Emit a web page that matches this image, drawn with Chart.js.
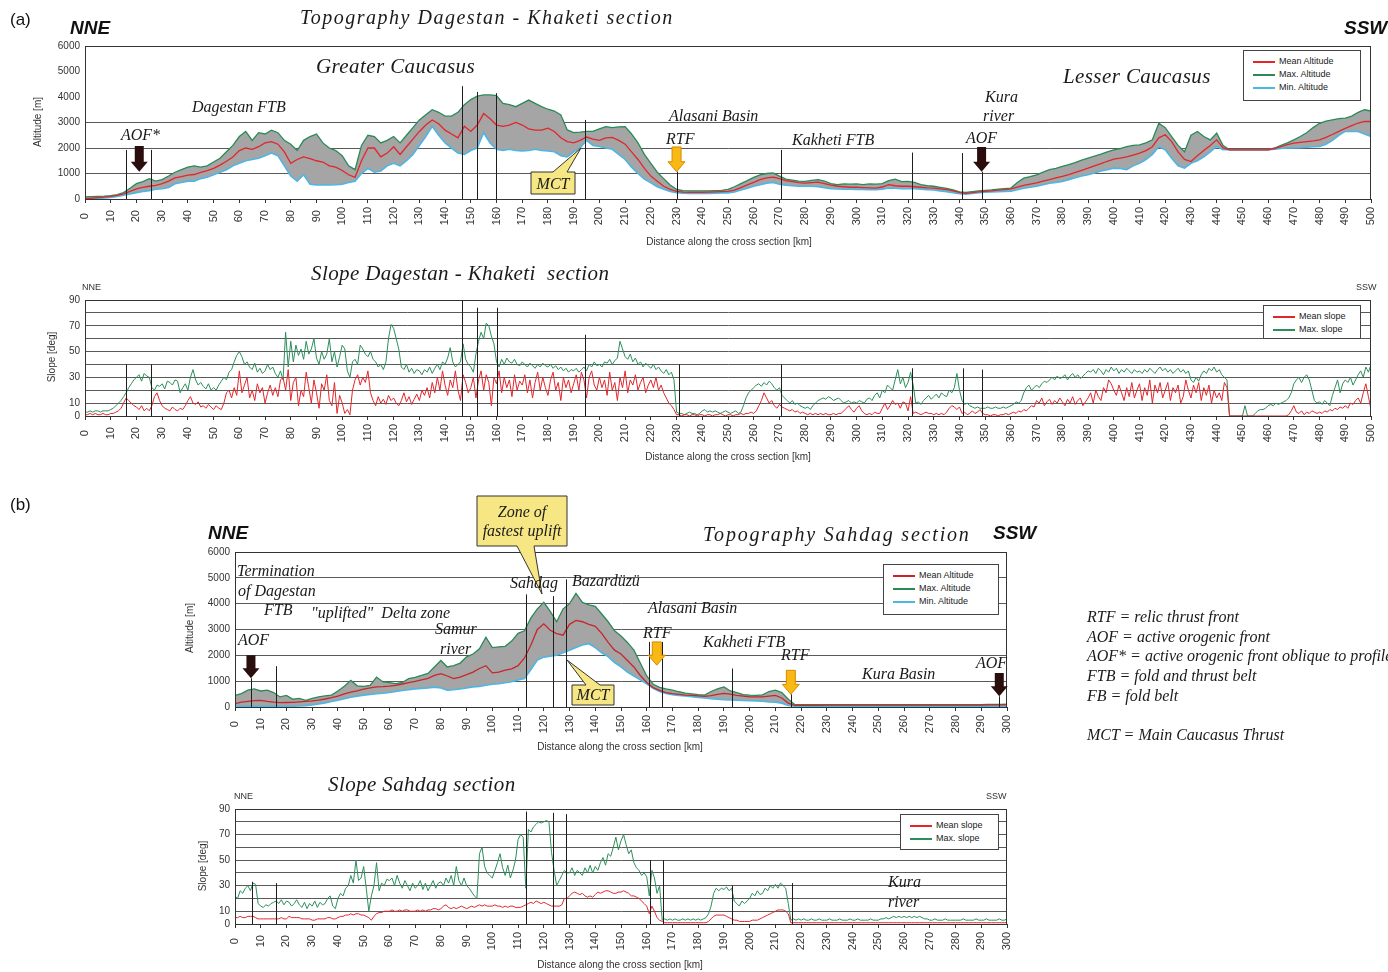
<!DOCTYPE html>
<html>
<head>
<meta charset="utf-8">
<script src="https://cdn.jsdelivr.net/npm/chart.js@4.4.1/dist/chart.umd.min.js"></script>
<style>
body{margin:0;background:#fff;width:1388px;height:972px;overflow:hidden;position:relative}
canvas{position:absolute}
svg{position:absolute;left:0;top:0}
.t{position:absolute;white-space:nowrap;line-height:1;color:#1a1a1a}
.s{font-family:'Liberation Serif',serif;font-style:italic;font-size:16px}
.big{font-size:21px;letter-spacing:0.4px}
.ttl{font-size:20px;letter-spacing:1.5px}
.dir{font-family:'Liberation Sans',sans-serif;font-weight:bold;font-style:italic;font-size:19px;color:#111}
.lab{font-family:'Liberation Sans',sans-serif;font-size:17px;color:#111}
.sm{font-family:'Liberation Sans',sans-serif;font-size:9px;color:#333}
.ax{font-family:'Liberation Sans',sans-serif;font-size:10px;color:#333}
.rot{transform:translate(-50%,-50%) rotate(-90deg)}
.ctr{transform:translate(-50%,-50%)}
.leg{position:absolute;border:1px solid #444;background:#fff;box-sizing:border-box;padding:4px 0 0 9px;font-family:'Liberation Sans',sans-serif;font-size:9px;color:#222}
.li{height:13px;line-height:13px;white-space:nowrap}
.li span{display:inline-block;width:22px;height:2px;vertical-align:middle;margin-right:4px}
</style>
</head>
<body>
<canvas id="topoA" style="left:45px;top:40px" width="1336" height="190"></canvas>
<canvas id="slopeA" style="left:45px;top:294px" width="1336" height="154"></canvas>
<canvas id="topoB" style="left:195px;top:546px" width="822" height="192"></canvas>
<canvas id="slopeB" style="left:195px;top:803px" width="822" height="153"></canvas>

<svg width="1388" height="972">
  <path d="M531,172 L553,172 L581,148 L567,172 L575,172 L575,194 L531,194 Z" fill="#f6e784" stroke="#333" stroke-width="1"/>
  <path d="M477,496 L567,496 L567,546 L534,546 L542,594 L517,546 L477,546 Z" fill="#f6e784" stroke="#333" stroke-width="1"/>
  <path d="M572,685 L586,685 L567,660 L600,685 L614,685 L614,705 L572,705 Z" fill="#f6e784" stroke="#333" stroke-width="1"/>
</svg>

<!-- (a) topography -->
<div class="t lab" style="left:10px;top:11px">(a)</div>
<div class="t dir" style="left:70px;top:18px">NNE</div>
<div class="t dir" style="left:1344px;top:18px">SSW</div>
<div class="t s ttl" style="left:300px;top:7px">Topography Dagestan - Khaketi section</div>
<div class="t s big" style="left:316px;top:56px">Greater Caucasus</div>
<div class="t s" style="left:192px;top:99px">Dagestan FTB</div>
<div class="t s" style="left:121px;top:127px">AOF*</div>
<div class="t s" style="left:669px;top:108px">Alasani Basin</div>
<div class="t s" style="left:666px;top:131px">RTF</div>
<div class="t s" style="left:792px;top:132px">Kakheti FTB</div>
<div class="t s" style="left:985px;top:89px">Kura</div>
<div class="t s" style="left:983px;top:108px">river</div>
<div class="t s" style="left:966px;top:130px">AOF</div>
<div class="t s big" style="left:1063px;top:66px">Lesser Caucasus</div>
<div class="t s ctr" style="left:553px;top:184px">MCT</div>
<div class="t ax rot" style="left:38px;top:122px">Altitude [m]</div>
<div class="t ax ctr" style="left:729px;top:242px">Distance along the cross section [km]</div>
<div class="leg" style="left:1243px;top:50px;width:118px;height:51px">
  <div class="li"><span style="background:#e2262b"></span>Mean Altitude</div>
  <div class="li"><span style="background:#2a8a56"></span>Max. Altitude</div>
  <div class="li"><span style="background:#4cb6e4"></span>Min. Altitude</div>
</div>

<!-- (a) slope -->
<div class="t sm" style="left:82px;top:283px">NNE</div>
<div class="t sm" style="left:1356px;top:283px">SSW</div>
<div class="t s big" style="left:311px;top:263px">Slope Dagestan - Khaketi&nbsp; section</div>
<div class="t ax rot" style="left:52px;top:357px">Slope [deg]</div>
<div class="t ax ctr" style="left:728px;top:457px">Distance along the cross section [km]</div>
<div class="leg" style="left:1263px;top:305px;width:98px;height:34px">
  <div class="li"><span style="background:#e3262c"></span>Mean slope</div>
  <div class="li"><span style="background:#2b8f5b"></span>Max. slope</div>
</div>

<!-- (b) topography -->
<div class="t lab" style="left:10px;top:496px">(b)</div>
<div class="t dir" style="left:208px;top:523px">NNE</div>
<div class="t s ttl" style="left:703px;top:524px;letter-spacing:1.8px">Topography Sahdag section</div>
<div class="t dir" style="left:993px;top:523px">SSW</div>
<div class="t s ctr" style="left:522px;top:512px">Zone of</div>
<div class="t s ctr" style="left:522px;top:531px">fastest uplift</div>
<div class="t s" style="left:237px;top:563px">Termination</div>
<div class="t s" style="left:238px;top:583px">of Dagestan</div>
<div class="t s" style="left:264px;top:602px">FTB</div>
<div class="t s" style="left:311px;top:605px">"uplifted"&nbsp; Delta zone</div>
<div class="t s" style="left:435px;top:621px">Samur</div>
<div class="t s" style="left:440px;top:641px">river</div>
<div class="t s" style="left:238px;top:632px">AOF</div>
<div class="t s" style="left:510px;top:575px">Sahdag</div>
<div class="t s" style="left:572px;top:573px">Bazardüzü</div>
<div class="t s" style="left:648px;top:600px">Alasani Basin</div>
<div class="t s" style="left:643px;top:625px">RTF</div>
<div class="t s" style="left:703px;top:634px">Kakheti FTB</div>
<div class="t s" style="left:781px;top:647px">RTF</div>
<div class="t s" style="left:862px;top:666px">Kura Basin</div>
<div class="t s" style="left:976px;top:655px">AOF</div>
<div class="t s ctr" style="left:593px;top:695px">MCT</div>
<div class="t ax rot" style="left:190px;top:628px">Altitude [m]</div>
<div class="t ax ctr" style="left:620px;top:747px">Distance along the cross section [km]</div>
<div class="leg" style="left:883px;top:564px;width:116px;height:51px">
  <div class="li"><span style="background:#c8262b"></span>Mean Altitude</div>
  <div class="li"><span style="background:#2a8a56"></span>Max. Altitude</div>
  <div class="li"><span style="background:#4cb6e4"></span>Min. Altitude</div>
</div>

<div class="t s" style="left:1087px;top:609px">RTF = relic thrust front</div>
<div class="t s" style="left:1087px;top:629px">AOF = active orogenic front</div>
<div class="t s" style="left:1087px;top:648px">AOF* = active orogenic front oblique to profile</div>
<div class="t s" style="left:1087px;top:668px">FTB = fold and thrust belt</div>
<div class="t s" style="left:1087px;top:688px">FB = fold belt</div>
<div class="t s" style="left:1087px;top:727px">MCT = Main Caucasus Thrust</div>

<!-- (b) slope -->
<div class="t sm" style="left:234px;top:792px">NNE</div>
<div class="t sm" style="left:986px;top:792px">SSW</div>
<div class="t s big" style="left:328px;top:774px">Slope Sahdag section</div>
<div class="t s" style="left:888px;top:874px">Kura</div>
<div class="t s" style="left:888px;top:894px">river</div>
<div class="t ax rot" style="left:203px;top:866px">Slope [deg]</div>
<div class="t ax ctr" style="left:620px;top:965px">Distance along the cross section [km]</div>
<div class="leg" style="left:900px;top:814px;width:99px;height:36px">
  <div class="li"><span style="background:#e3262c"></span>Mean slope</div>
  <div class="li"><span style="background:#2b8f5b"></span>Max. slope</div>
</div>

<script>
// sampling step of each profile [km]
const stepTopoA = 2.5;
const stepSlopeA = 1;
const stepTopoB = 2.5;
const stepSlopeB = 1;

// (a) Dagestan - Khaketi topography [m], every 2.5 km from 0 to 500
const meanAltA = [
  20,30,50,70, 100,140,200,300, 400,460,500,530, 600,700,830,880, 940,960,1040,1110,
  1200,1330,1480,1650, 1900,2000,1950,2050, 2200,2250,2150,1850, 1400,1550,1650,1580, 1500,1450,1300,1250,
  1120,950,850,1500, 2000,2000,1650,1800, 2050,1750,2050,2350, 2650,2900,3100,2950, 2700,2550,2400,2850,
  2650,2900,3350,3150, 2900,2850,2900,3000, 2900,2750,2700,2700, 2780,2650,2400,2250, 2200,2300,2430,2350,
  2300,2400,2420,2300, 2150,1850,1550,1200, 900,700,500,380, 300,270,260,260, 260,270,280,290,
  300,350,450,550, 650,760,830,860, 800,720,680,640, 620,640,660,600, 540,500,480,460,
  460,450,440,430, 470,560,520,500, 500,480,460,440, 430,400,370,320, 260,220,250,280,
  300,320,350,370, 400,470,530,580, 630,700,760,830, 890,960,1040,1120, 1210,1300,1390,1480,
  1560,1600,1650,1720, 1800,1900,2050,2400, 2520,2250,1850,1550, 1470,1700,1900,2100, 2320,2000,1930,1930,
  1930,1930,1930,1930, 1930,1980,2050,2130, 2190,2220,2250,2280, 2320,2420,2530,2650, 2770,2880,2980,3040,
  3040
];
const maxAltA = [
  80,90,100,110, 130,170,250,420, 600,680,800,700, 760,900,1050,1150, 1250,1300,1250,1300,
  1450,1600,1850,2100, 2450,2650,2300,2600, 2550,2700,2600,2300, 2150,1900,2300,2450, 2550,2200,2000,1900,
  1700,1300,1150,2100, 2500,2450,2200,2300, 2450,2200,2500,2800, 3100,3300,3500,3400, 3250,3250,3400,3700,
  3900,4030,4080,4080, 4050,3750,3700,3620, 3750,3880,3750,3620, 3520,3450,3300,2710, 2600,2620,2650,2650,
  2750,2840,2800,2830, 2840,2550,2200,1750, 1400,1050,800,550, 380,330,320,320, 320,320,330,340,
  380,480,600,720, 850,950,1000,1020, 900,780,740,700, 690,730,760,700, 600,560,590,580,
  590,560,590,580, 600,720,780,680, 690,650,560,520, 500,460,420,360, 280,260,290,320,
  340,360,390,410, 430,650,820,880, 950,1050,1150,1200, 1280,1350,1430,1520, 1600,1680,1760,1850,
  1930,1980,2050,2100, 2120,2200,2320,2970, 2800,2450,2100,1850, 2500,2650,2450,2320, 2580,2100,1930,1930,
  1930,1930,1930,1930, 1930,2000,2100,2200, 2320,2450,2600,2800, 2970,3050,3100,3150, 3170,3250,3400,3500,
  3450
];
const minAltA = [
  0,10,20,40, 60,100,150,200, 250,300,330,380, 400,450,600,650, 700,700,800,850,
  950,1050,1150,1300, 1400,1500,1550,1600, 1700,1800,1700,1300, 900,700,950,580, 550,550,550,560,
  580,650,700,1000, 1200,1050,1100,1300, 1400,1300,1500,1750, 2100,2450,2850,2500, 2200,2000,1800,1750,
  1900,2000,2600,2200, 1950,1900,1950,1900, 1880,1900,1950,1900, 1880,1850,1700,1650, 1850,2000,2300,2100,
  2060,2000,1950,1750, 1550,1250,1000,780, 630,480,380,300, 250,230,220,220, 220,220,230,240,
  240,280,350,420, 500,560,620,650, 580,540,520,500, 500,500,480,440, 400,390,380,380,
  370,370,360,360, 380,430,420,400, 400,400,380,360, 350,320,290,250, 210,190,220,250,
  270,280,290,300, 310,360,420,460, 500,560,620,650, 690,760,830,900, 950,1020,1100,1150,
  1210,1200,1150,1300, 1400,1550,1750,2050, 1930,1600,1300,1210, 1400,1500,1650,1850, 2060,1930,1930,1930,
  1930,1930,1930,1930, 1930,1950,1980,2000, 2000,2010,2030,2050, 2060,2150,2300,2500, 2650,2650,2650,2550,
  2450
];

// (a) slope [deg], every 1 km from 0 to 500
const meanSlopeA = [
  1,1,2,1,2,1,1,2,1,1, 2,2,3,4,6,10,14,12,10,8, 7,5,8,4,6,4,8,15,18,12, 8,6,5,4,7,5,4,6,5,8,
  12,15,10,9,11,7,8,6,9,7, 5,8,6,5,10,18,20,14,22,16, 35,18,24,30,14,20,12,25,18,22, 10,18,24,16,22,15,28,30,20,36,
  12,26,30,8,20,15,34,22,10,28, 18,6,25,20,32,12,8,26,2,16, 10,2,5,1,20,28,32,24,30,26, 35,18,12,8,15,10,13,9,16,12,
  14,10,8,12,18,11,15,9,13,17, 12,20,16,22,14,26,18,30,20,35, 24,16,28,22,35,20,12,32,26,18, 22,30,14,28,35,20,32,26,8,30,
  25,35,18,30,22,28,15,32,20,27, 24,32,18,28,14,26,34,20,30,22, 16,28,34,20,26,12,30,22,28,18, 25,32,20,34,28,14,30,35,24,20,
  30,22,28,16,34,20,26,12,30,22, 35,18,28,24,32,20,26,30,18,24, 28,22,30,20,24,18,14,10,8,5, 1,1,0,1,1,0,1,1,0,1,
  1,0,1,1,0,1,1,2,1,0, 1,1,0,1,1,2,1,2,2,3, 2,4,8,12,18,14,10,12,8,6, 9,7,6,5,4,5,3,4,2,3,
  2,1,2,1,2,1,2,1,2,1, 1,2,1,2,2,4,6,8,5,3, 6,8,4,2,1,2,1,3,2,2, 6,10,5,8,12,9,10,6,11,10,
  4,15,2,3,2,1,2,3,2,2, 1,2,1,2,1,3,6,8,7,5, 7,2,3,1,2,4,2,3,5,2, 1,1,0,1,1,0,1,1,2,1,
  2,3,2,4,3,5,4,6,8,7, 12,10,14,8,11,13,9,12,10,14, 11,8,13,10,15,9,12,14,8,11, 14,18,10,20,15,12,22,18,28,25,
  20,16,24,18,12,22,15,26,14,20, 25,12,22,16,28,10,24,18,26,14, 20,26,12,22,18,24,10,15,28,20, 14,24,18,26,12,22,16,24,10,20,
  14,18,12,26,22,0,0,0,0,0, 0,0,0,0,0,0,0,0,0,0, 0,0,0,0,0,0,0,0,1,4, 8,3,2,4,1,3,2,4,3,2,
  3,2,4,3,5,4,6,5,7,6, 8,6,10,9,12,14,10,18,25,15,
  5
];
const maxSlopeA = [
  3,3,4,3,4,4,3,4,4,4, 5,6,8,10,12,15,18,22,25,28, 30,32,27,33,31,30,22,20,24,23, 25,21,27,26,24,28,27,18,22,25,
  20,30,36,28,24,26,23,21,25,20, 22,20,24,27,30,28,34,36,42,47, 50,46,40,42,38,36,41,34,37,33, 35,40,36,38,33,30,35,28,65,38,
  58,42,55,47,52,44,58,48,52,60, 45,40,50,44,48,60,42,50,38,46, 55,52,35,30,42,44,40,55,52,48, 46,50,44,42,38,40,36,42,60,71,
  68,60,52,38,36,40,34,37,33,36, 35,32,36,34,38,33,37,40,36,42, 40,45,53,42,38,40,42,56,44,40, 38,34,48,58,65,60,72,70,62,56,
  42,38,44,40,45,42,41,44,40,39, 42,40,38,41,39,37,40,38,41,39, 38,40,37,39,36,38,35,37,34,36, 35,37,34,36,38,35,40,38,42,39,
  40,38,42,41,44,40,43,45,58,52, 46,44,48,42,45,40,42,38,41,39, 37,40,36,38,35,33,36,32,34,28, 3,2,2,1,2,3,2,2,1,2,
  4,5,3,4,3,4,3,2,3,4, 3,2,3,4,2,3,8,14,18,20, 22,24,25,23,26,24,27,25,22,20, 22,16,14,12,10,12,9,10,8,7,
  6,7,5,8,10,12,13,14,13,15, 14,12,13,14,12,10,11,12,10,11, 10,12,11,10,13,14,12,16,18,14, 20,18,24,22,20,28,36,25,30,22,
  26,34,24,10,11,9,12,14,16,13, 15,17,14,18,16,15,20,18,22,33, 20,12,9,10,8,7,6,7,6,6, 6,7,6,6,7,6,6,7,6,7,
  8,9,11,10,12,18,22,24,20,22, 24,22,25,27,26,28,30,28,31,29, 30,32,28,31,33,30,32,29,31,33, 35,34,36,33,37,35,32,36,34,38,
  35,37,33,36,34,37,35,33,36,34, 35,33,36,34,37,35,33,36,38,35, 37,34,36,33,35,37,34,36,33,35, 28,26,30,27,32,35,33,37,35,38,
  34,36,32,30,28,0,0,0,0,0, 0,8,0,0,0,2,4,5,5,6, 8,9,8,10,9,10,11,12,14,18, 25,28,30,26,30,32,28,20,12,10,
  11,9,12,10,8,16,22,28,18,25, 28,26,30,24,28,32,35,30,38,34,
  40
];

// (b) Sahdag topography [m], every 2.5 km from 0 to 300
const meanAltB = [
  130,190,220,250, 260,220,190,170, 175,180,200,220, 240,270,310,360, 420,510,580,620,
  690,740,780,790, 810,840,890,940, 990,1050,1110,1220, 1290,1200,1100,1160, 1250,1350,1490,1600,
  1320,1350,1430,1480, 1600,1900,2400,3000, 3220,2970,2840,2780, 3200,3350,3300,3200, 3120,2850,2500,2200,
  2050,1800,1550,1220, 950,750,640,560, 520,490,460,450, 430,410,440,490, 530,500,450,420,
  390,390,390,420, 450,350,150,60, 60,60,65,65, 70,70,70,70, 70,70,70,70,
  70,70,70,70, 70,70,70,70, 70,70,70,70, 70,75,75,75, 75,80,80,85,
  90
];
const maxAltB = [
  450,520,650,700, 620,650,560,390, 450,300,330,260, 330,390,430,460, 620,800,1030,820,
  800,840,1160,970, 940,900,950,1100, 1150,1220,1300,1550, 1800,1550,1600,1700, 1940,2050,2250,2700,
  2300,2330,2350,2550, 2850,2950,3450,3800, 4050,3700,3300,3800, 4000,4400,4050,3950, 3900,3600,3300,2950,
  2750,2500,2200,1700, 1200,880,760,700, 650,590,540,510, 480,460,600,700, 780,620,560,480,
  460,450,470,600, 650,560,300,100, 90,90,90,90, 90,90,90,90, 90,90,90,90,
  90,90,90,90, 90,90,90,90, 90,90,90,90, 90,95,95,95, 95,100,100,105,
  110
];
const minAltB = [
  25,25,25,25, 25,25,25,25, 25,30,40,55, 80,120,160,210, 260,320,380,420,
  460,490,510,530, 560,600,640,670, 700,720,740,770, 740,650,670,700, 740,780,800,840,
  880,900,940,980, 1050,1100,1450,1820, 1930,1970,2000,2100, 2200,2300,2400,2450, 2300,2100,1950,1720,
  1550,1350,1200,1050, 900,720,600,520, 480,450,430,400, 370,350,320,300, 280,270,260,250,
  240,230,220,200, 190,150,60,30, 25,25,25,25, 25,25,25,25, 25,25,25,25,
  25,25,25,25, 25,25,25,25, 25,25,25,25, 25,25,25,25, 25,25,25,25,
  25
];

// (b) slope [deg], every 1 km from 0 to 300
const meanSlopeB = [
  5,5,6,5,5,6,6,6,5,4, 4,4,4,4,4,4,4,4,5,4, 4,6,5,5,5,5,4,4,4,4, 3,3,4,4,4,4,5,5,4,4,
  5,6,6,7,7,8,7,8,8,7, 7,6,5,3,6,8,9,9,10,10, 10,11,10,10,11,10,11,11,10,10, 10,11,10,11,10,11,11,12,12,11,
  12,14,15,13,12,13,12,13,14,13, 12,13,14,13,14,15,14,15,14,14, 14,15,14,14,13,14,13,14,14,13, 13,13,14,15,16,17,16,18,17,16,
  17,16,15,14,14,14,14,15,20,20, 22,24,25,24,23,24,22,21,22,21, 23,25,24,25,26,26,25,24,24,25, 25,26,25,24,22,22,21,20,18,16,
  14,8,14,10,5,3,2,1,1,1, 1,1,1,1,1,1,1,1,1,1, 1,1,1,1,2,4,6,7,7,7, 7,6,5,4,3,3,2,2,2,2,
  2,3,3,3,4,5,6,7,8,9, 10,11,11,11,10,8,1,1,1,1, 1,1,1,1,1,1,1,1,1,1, 1,1,1,1,1,1,1,1,1,1,
  1,1,1,1,1,1,1,1,1,1, 1,1,1,1,1,1,1,1,1,1, 1,1,1,1,1,1,1,1,1,1, 1,1,1,1,1,1,1,1,1,1,
  1,1,1,1,1,1,1,1,1,1, 1,1,1,1,1,1,1,1,1,1,
  1
];
const maxSlopeB = [
  22,20,26,24,28,30,26,32,31,16, 14,13,15,14,16,17,18,16,19,15, 18,17,14,16,19,15,13,17,12,16, 14,18,13,17,15,16,20,22,14,12,
  20,24,22,28,30,38,32,50,34,36, 45,28,10,22,30,48,26,32,30,35, 34,36,30,38,32,28,34,30,26,32, 28,30,34,27,32,26,30,34,28,32,
  33,30,36,32,38,30,45,34,30,36, 30,28,25,22,20,55,60,45,40,38, 36,42,48,55,44,38,46,36,42,50, 66,70,68,28,74,72,76,78,80,79,
  80,81,80,56,42,30,34,38,42,40, 40,44,38,42,40,38,44,40,46,40, 45,42,48,52,46,55,53,60,68,58, 65,70,62,55,58,48,44,42,38,40,
  37,22,42,36,24,30,3,4,3,4, 3,4,3,3,4,3,4,3,4,3, 4,3,4,5,8,14,24,28,26,28, 27,29,26,28,18,16,14,18,16,18,
  20,24,22,26,23,24,28,26,30,28, 31,28,32,30,28,16,3,4,3,4, 3,4,3,3,4,3,3,4,3,3, 3,4,3,3,3,4,3,3,3,4,
  3,3,4,3,3,3,3,4,3,3, 3,4,4,5,4,5,6,5,6,5, 6,5,6,5,6,5,6,5,4,4, 3,3,4,3,3,3,4,3,3,3,
  3,3,3,4,3,3,3,3,4,3, 3,3,4,3,3,3,3,4,3,3,
  4
];

// tick labels / grid
const altTicks = [0, 1000, 2000, 3000, 4000, 5000, 6000];
const slopeTickLabels = [0, 10, 30, 50, 70, 90];
const gridAltA = [1000, 2000, 3000];
const gridAltB = [1000, 2000, 3000, 4000, 5000];
const gridSlope = [10, 20, 30, 40, 50, 60, 70, 80];

// structural markers: [km, top value]
const markLinesTopoA = [[15.8,1925],[25.5,1925],[146.4,4425],[152.5,4200],[159.9,4150],[194.3,3100],[230,1070],[270.7,1925],[321.5,1820],[341,1800],[348.6,1070]];
const markLinesSlopeA = [[16,40],[25.5,40],[146.5,90],[152.4,84],[160,84],[194.4,63],[230.8,40],[270.8,40],[321.4,37],[341.2,37],[348.6,36]];
const markLinesTopoB = [[6.2,1110],[15.8,1580],[113,4360],[123.4,4290],[128.6,4940],[160.9,2520],[166.1,2520],[193.3,1490],[216,490],[297,415]];
const markLinesSlopeB = [[6.5,33],[16,32],[113,88],[123.7,87],[128.6,86],[161.3,50],[166.2,50],[193.3,30],[216.3,32]];
// arrows: km, top, tip, kind
const arrowsTopoA = [
  {km: 21.1, top: 2080, tip: 1070, kind: 'aof'},
  {km: 230, top: 2040, tip: 1070, kind: 'rtf'},
  {km: 348.6, top: 2040, tip: 1070, kind: 'aof'}
];
const arrowsTopoB = [
  {km: 6.2, top: 2005, tip: 1110, kind: 'aof'},
  {km: 163.9, top: 2520, tip: 1620, kind: 'rtf'},
  {km: 216, top: 1420, tip: 490, kind: 'rtf'},
  {km: 297, top: 1320, tip: 415, kind: 'aof'}
];

const RED = '#e2262b', GREEN = '#2a8a56', BLUE = '#4cb6e4', GRAY = '#a5a5a5';

Chart.defaults.font.family = "'Liberation Sans', sans-serif";
Chart.defaults.font.size = 10;
Chart.defaults.color = '#333';

function pts(step, vals) {
  return vals.map((v, i) => ({x: i * step, y: v}));
}

function drawArrow(ctx, px, yTop, yTip, kind) {
  const sw = 4.5, hw = 8.5, hl = 10;
  ctx.beginPath();
  ctx.moveTo(px - sw, yTop);
  ctx.lineTo(px + sw, yTop);
  ctx.lineTo(px + sw, yTip - hl);
  ctx.lineTo(px + hw, yTip - hl);
  ctx.lineTo(px, yTip);
  ctx.lineTo(px - hw, yTip - hl);
  ctx.lineTo(px - sw, yTip - hl);
  ctx.closePath();
  if (kind === 'rtf') {
    ctx.fillStyle = '#f8b914';
    ctx.strokeStyle = '#d98a00';
    ctx.fill();
    ctx.stroke();
  } else {
    ctx.fillStyle = '#2a0e0e';
    ctx.fill();
  }
}

function makeMarks(lines, arrows) {
  return {
    id: 'marks',
    afterDatasetsDraw(chart) {
      const {ctx, chartArea, scales: {x, y}} = chart;
      ctx.save();
      ctx.strokeStyle = '#333';
      ctx.lineWidth = 1;
      ctx.strokeRect(chartArea.left + 0.5, chartArea.top + 0.5, chartArea.width - 1, chartArea.height);
      ctx.strokeStyle = '#1e1e1e';
      lines.forEach(([km, top]) => {
        const px = Math.round(x.getPixelForValue(km)) + 0.5;
        ctx.beginPath();
        ctx.moveTo(px, y.getPixelForValue(0));
        ctx.lineTo(px, y.getPixelForValue(top));
        ctx.stroke();
      });
      arrows.forEach(a => {
        drawArrow(ctx, x.getPixelForValue(a.km), y.getPixelForValue(a.top), y.getPixelForValue(a.tip), a.kind);
      });
      ctx.restore();
    }
  };
}

function xScale(maxKm, h) {
  return {
    type: 'linear', min: 0, max: maxKm,
    grid: {drawOnChartArea: false, drawTicks: true, tickLength: 4, color: '#333'},
    border: {color: '#333'},
    ticks: {
      stepSize: 10, autoSkip: false, minRotation: 90, maxRotation: 90, padding: 4,
      font: {size: 11},
      callback: v => String(v) + ' '.repeat(3 - String(v).length)
    },
    afterFit(s) { s.height = h; s.paddingLeft = 0; s.paddingRight = 0; }
  };
}

function yScale(max, step, gridVals, labelVals) {
  return {
    min: 0, max: max,
    grid: {
      drawTicks: false,
      color: c => (c.tick && gridVals.includes(c.tick.value)) ? '#5a5a5a' : 'rgba(0,0,0,0)'
    },
    border: {color: '#333'},
    ticks: {
      stepSize: step, padding: 5, autoSkip: false,
      callback: v => labelVals.includes(v) ? v : ''
    },
    afterFit(s) { s.width = 40; s.paddingTop = 0; s.paddingBottom = 0; }
  };
}

function baseOptions(maxKm, xh, yMax, yStep, gridVals, labelVals) {
  return {
    responsive: false,
    animation: false,
    layout: {padding: {left: 0, right: 10, top: 6, bottom: 0}},
    elements: {point: {radius: 0}, line: {tension: 0}},
    plugins: {legend: {display: false}, tooltip: {enabled: false}},
    scales: {x: xScale(maxKm, xh), y: yScale(yMax, yStep, gridVals, labelVals)}
  };
}

function topoChart(id, step, mean, max, min, maxKm, xh, gridVals, lines, arrows, meanColor) {
  new Chart(document.getElementById(id), {
    type: 'line',
    data: {
      datasets: [
        {label: 'Mean Altitude', data: pts(step, mean), borderColor: meanColor, borderWidth: 1.3, order: 1},
        {label: 'Max. Altitude', data: pts(step, max), borderColor: GREEN, borderWidth: 1.3, fill: 2, backgroundColor: GRAY, order: 3},
        {label: 'Min. Altitude', data: pts(step, min), borderColor: BLUE, borderWidth: 1.6, order: 2}
      ]
    },
    options: baseOptions(maxKm, xh, 6000, 1000, gridVals, altTicks),
    plugins: [makeMarks(lines, arrows)]
  });
}

function slopeChart(id, step, mean, max, maxKm, xh, lines) {
  new Chart(document.getElementById(id), {
    type: 'line',
    data: {
      datasets: [
        {label: 'Mean slope', data: pts(step, mean), borderColor: '#e3262c', borderWidth: 1, order: 1},
        {label: 'Max. slope', data: pts(step, max), borderColor: '#2b8f5b', borderWidth: 1, order: 2}
      ]
    },
    options: baseOptions(maxKm, xh, 90, 10, gridSlope, slopeTickLabels),
    plugins: [makeMarks(lines, [])]
  });
}

topoChart('topoA', stepTopoA, meanAltA, maxAltA, minAltA, 500, 31, gridAltA, markLinesTopoA, arrowsTopoA, RED);
slopeChart('slopeA', stepSlopeA, meanSlopeA, maxSlopeA, 500, 32, markLinesSlopeA);
topoChart('topoB', stepTopoB, meanAltB, maxAltB, minAltB, 300, 31, gridAltB, markLinesTopoB, arrowsTopoB, '#c8262b');
slopeChart('slopeB', stepSlopeB, meanSlopeB, maxSlopeB, 300, 32, markLinesSlopeB);
</script>
</body>
</html>
